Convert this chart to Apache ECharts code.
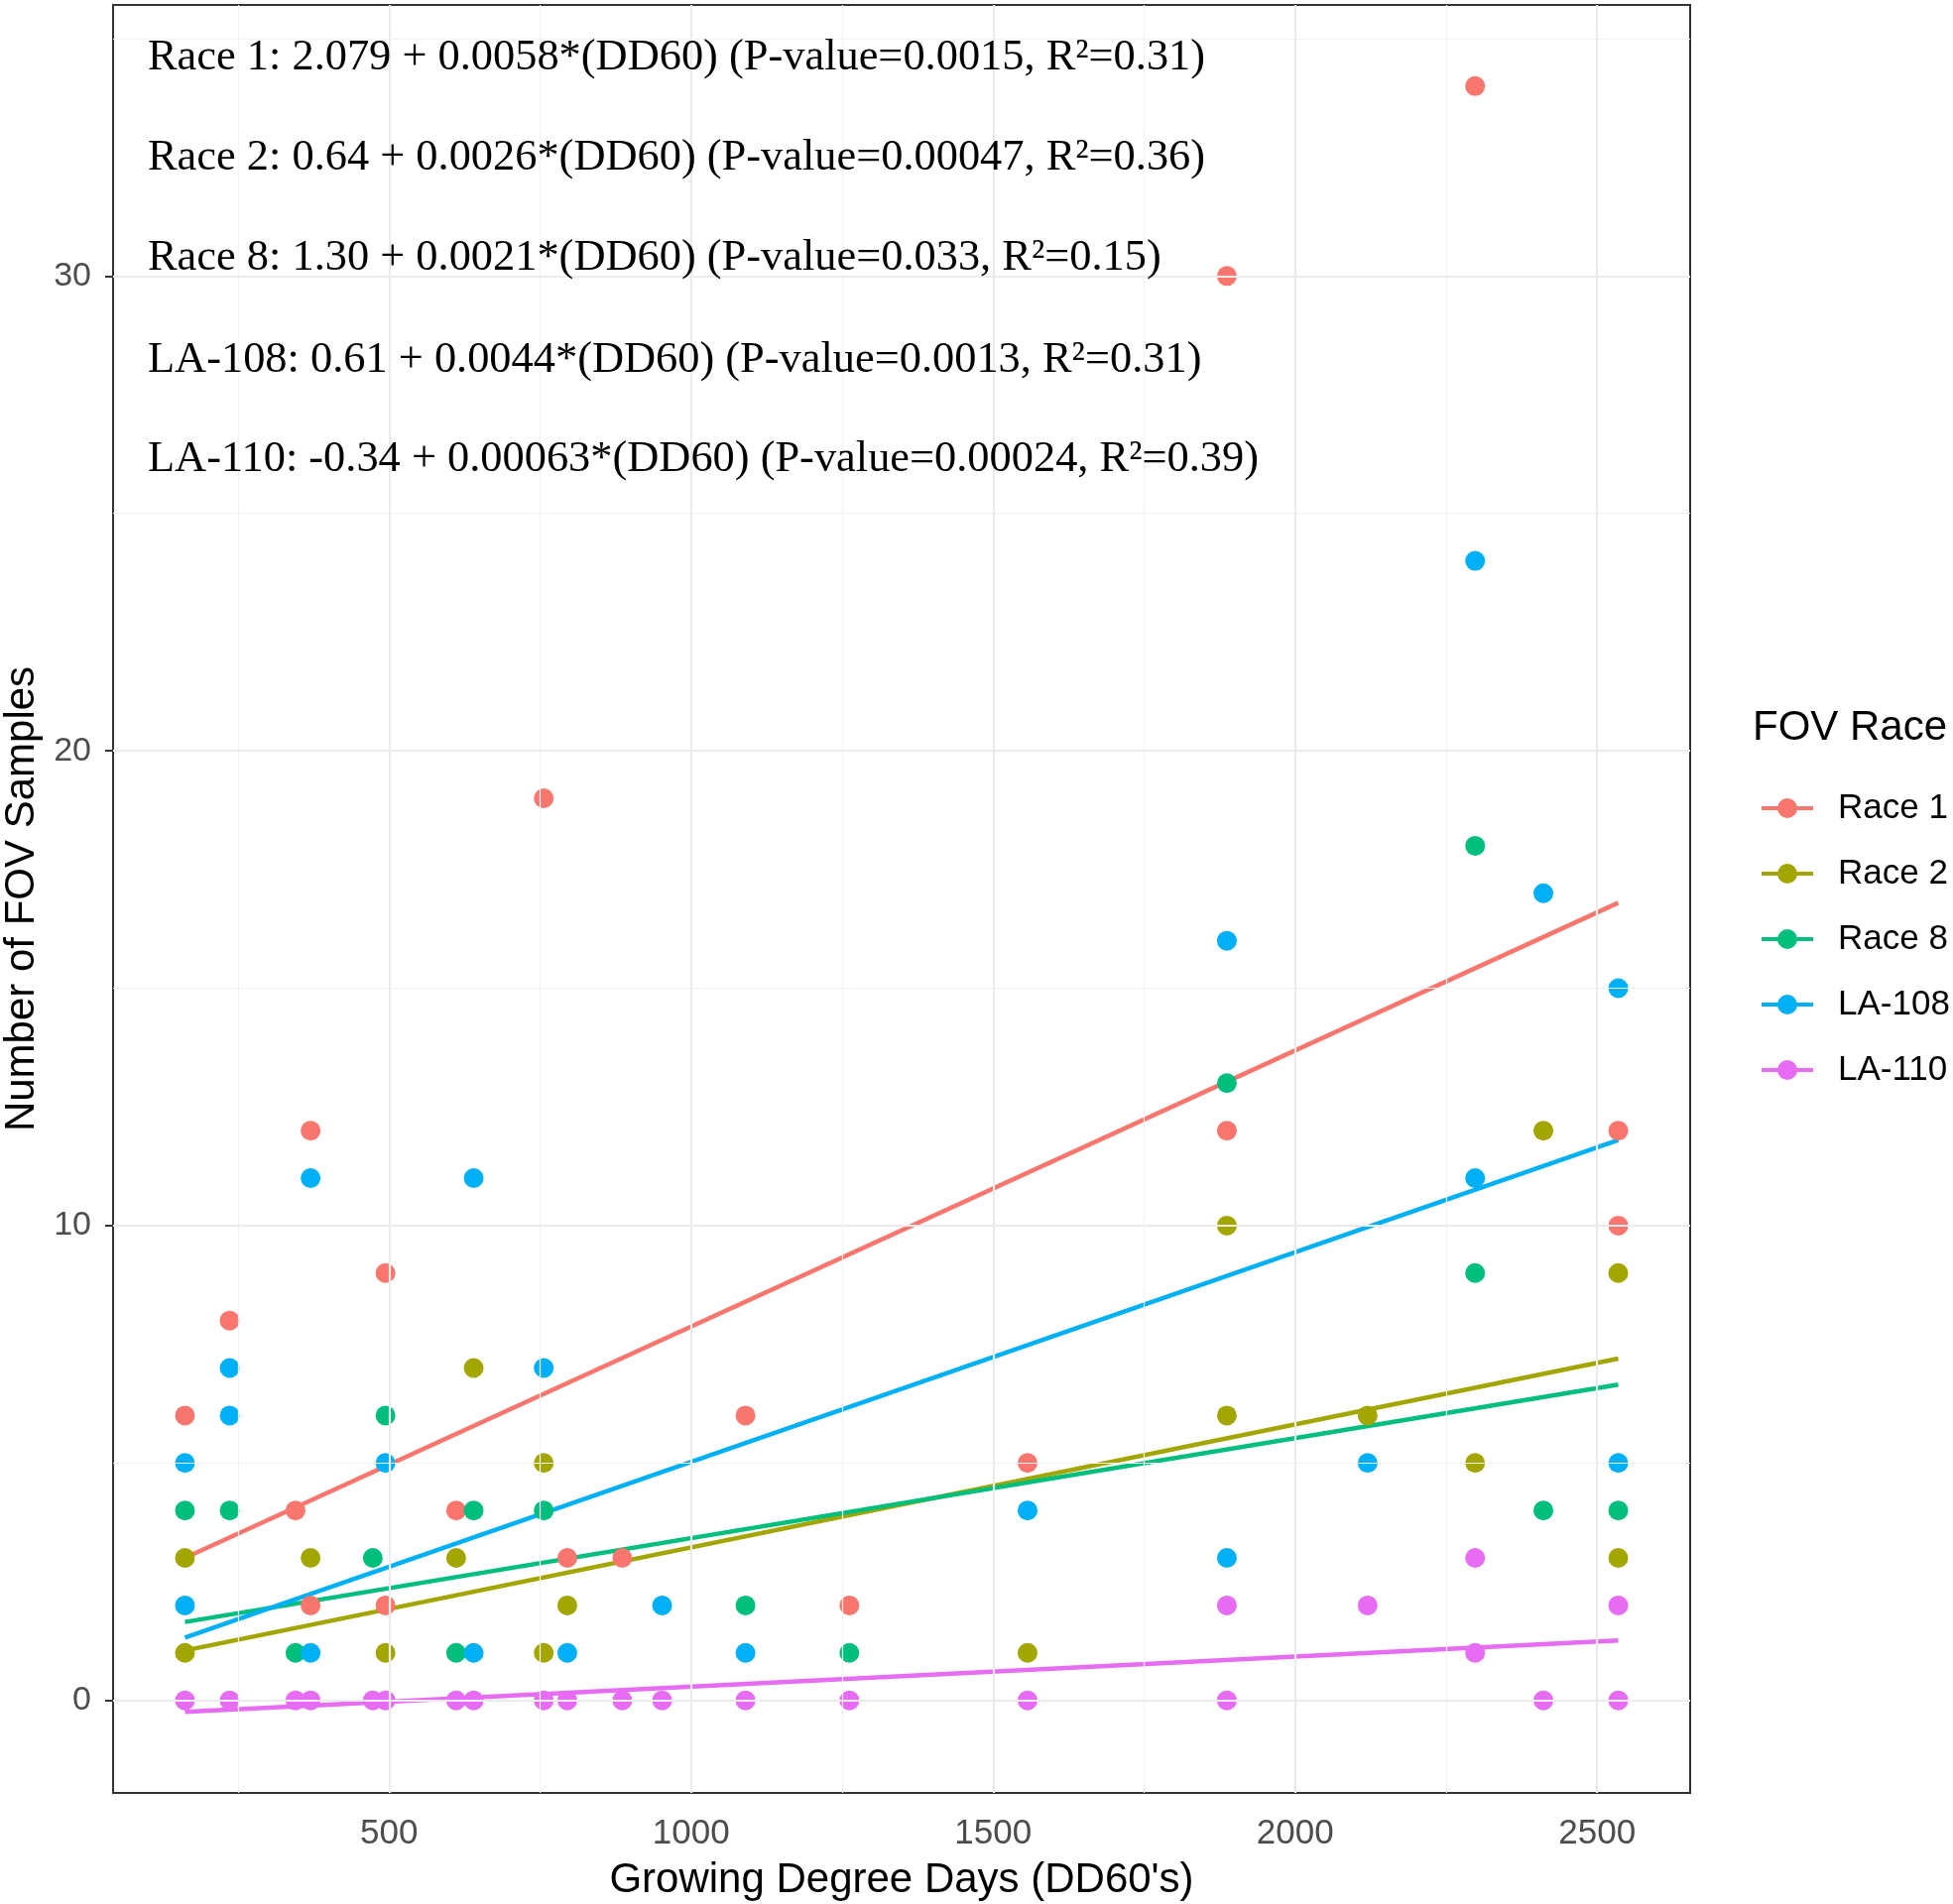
<!DOCTYPE html>
<html>
<head>
<meta charset="utf-8">
<script src="https://cdn.jsdelivr.net/npm/echarts@6/dist/echarts.min.js"></script>
<style>
  html, body { margin: 0; padding: 0; background: #fff; }
  #main { width: 1969px; height: 1920px; }
</style>
</head>
<body>
<div id="main"></div>
<script>
// FOV race names and colours (ggplot default hues)
const raceNames = ['Race 1', 'Race 2', 'Race 8', 'LA-108', 'LA-110'];
const raceColors = ['#F8766D', '#A3A500', '#00BF7D', '#00B0F6', '#E76BF3'];

// [DD60, samples]
const race1 = [[162,6],[236,8],[345,4],[370,12],[370,2],[494,9],[494,2],[611,4],[756,19],[795,3],
  [886,3],[1090,6],[1262,2],[1557,5],[1887,30],[1887,12],[2298,34],[2535,12],[2535,10]];
const race2 = [[162,3],[162,1],[370,3],[494,1],[611,3],[640,7],[756,5],[756,1],[795,2],[1557,1],
  [1887,10],[1887,6],[2120,6],[2298,5],[2411,12],[2535,9],[2535,3]];
const race8 = [[162,4],[236,4],[345,1],[473,3],[494,6],[611,1],[640,4],[756,4],[1090,2],[1262,1],
  [1887,13],[2298,18],[2298,9],[2411,4],[2535,4]];
const la108 = [[162,5],[162,2],[236,7],[236,6],[370,11],[370,1],[494,5],[640,11],[640,1],[756,7],
  [795,1],[952,2],[1090,1],[1557,4],[1887,16],[1887,3],[2120,5],[2298,24],[2298,11],[2411,17],
  [2535,15],[2535,5]];
const la110 = [[162,0],[236,0],[345,0],[370,0],[473,0],[494,0],[611,0],[640,0],[756,0],[795,0],
  [886,0],[952,0],[1090,0],[1262,0],[1557,0],[1887,0],[1887,2],[2120,2],[2298,3],[2298,1],
  [2411,0],[2535,0],[2535,2]];

// fitted lines: ends at the first and last DD60
const fitX = [162, 2535];
const race1Fit = [3.0, 16.8];
const race2Fit = [1.05, 7.2];
const race8Fit = [1.65, 6.65];
const la108Fit = [1.32, 11.8];
const la110Fit = [-0.24, 1.26];

// axes
const xTicks = [500, 1000, 1500, 2000, 2500];
const xMinor = [250, 750, 1250, 1750, 2250];
const yTicks = [0, 10, 20, 30];
const yMinor = [5, 15, 25, 35];

const equations = [
  'Race 1: 2.079 + 0.0058*(DD60) (P-value=0.0015, R\u00b2=0.31)',
  'Race 2: 0.64 + 0.0026*(DD60) (P-value=0.00047, R\u00b2=0.36)',
  'Race 8: 1.30 + 0.0021*(DD60) (P-value=0.033, R\u00b2=0.15)',
  'LA-108: 0.61 + 0.0044*(DD60) (P-value=0.0013, R\u00b2=0.31)',
  'LA-110: -0.34 + 0.00063*(DD60) (P-value=0.00024, R\u00b2=0.39)'
];

const points = [race1, race2, race8, la108, la110];
const fits = [race1Fit, race2Fit, race8Fit, la108Fit, la110Fit];

const sans = 'Liberation Sans';
const serif = 'Liberation Serif';

const chart = echarts.init(document.getElementById('main'));

const gridLines = {
  type: 'line',
  data: [],
  z: 1,
  silent: true,
  markLine: {
    silent: true,
    symbol: 'none',
    animation: false,
    label: { show: false },
    data: [].concat(
      xMinor.map(v => ({ xAxis: v, lineStyle: { color: '#F2F2F2', width: 1.2, type: 'solid' } })),
      yMinor.map(v => ({ yAxis: v, lineStyle: { color: '#F2F2F2', width: 1.2, type: 'solid' } })),
      xTicks.map(v => ({ xAxis: v, lineStyle: { color: '#EBEBEB', width: 2.2, type: 'solid' } })),
      yTicks.map(v => ({ yAxis: v, lineStyle: { color: '#EBEBEB', width: 2.2, type: 'solid' } }))
    )
  }
};

const lineSeries = raceNames.map((name, i) => ({
  name: name,
  type: 'line',
  data: fitX.map((x, j) => [x, fits[i][j]]),
  showSymbol: false,
  z: 2,
  lineStyle: { color: raceColors[i], width: 4.5 },
  itemStyle: { color: raceColors[i] }
}));

const pointSeries = raceNames.map((name, i) => ({
  name: name,
  type: 'scatter',
  data: points[i],
  symbol: 'circle',
  symbolSize: 20,
  z: 3,
  itemStyle: { color: raceColors[i], opacity: 1 }
}));

const legendIcon = 'path://M0,8L52,8L52,12L0,12Z M36,10A10,10,0,1,1,16,10A10,10,0,1,1,36,10Z';

chart.setOption({
  animation: false,
  backgroundColor: '#fff',
  title: {
    text: 'FOV Race',
    left: 1762,
    top: 708,
    textStyle: { fontFamily: sans, fontSize: 42, fontWeight: 'normal', color: '#000' }
  },
  legend: {
    orient: 'vertical',
    left: 1771,
    top: 792,
    itemWidth: 52,
    itemHeight: 20,
    itemGap: 30,
    icon: legendIcon,
    data: raceNames.map((n, i) => ({ name: n, itemStyle: { color: raceColors[i] } })),
    textStyle: { fontFamily: sans, fontSize: 35, color: '#000', lineHeight: 36, padding: [0, 0, 0, 20] }
  },
  grid: {
    left: 114,
    right: 265,
    top: 5,
    bottom: 112,
    outerBoundsMode: 'none',
    containLabel: false,
    show: true,
    borderColor: '#333333',
    borderWidth: 2,
    backgroundColor: '#fff'
  },
  xAxis: {
    type: 'value',
    min: 43,
    max: 2654,
    name: "Growing Degree Days (DD60's)",
    nameLocation: 'middle',
    nameGap: 67,
    nameTextStyle: { fontFamily: sans, fontSize: 42, color: '#000' },
    axisLine: { show: false },
    splitLine: { show: false },
    axisTick: { show: true, length: 8, customValues: xTicks, lineStyle: { color: '#333333', width: 2 } },
    axisLabel: {
      customValues: xTicks,
      formatter: v => String(v),
      fontFamily: sans, fontSize: 35, color: '#4D4D4D', margin: 24
    }
  },
  yAxis: {
    type: 'value',
    min: -1.95,
    max: 35.71,
    name: 'Number of FOV Samples',
    nameLocation: 'middle',
    nameGap: 70,
    nameTextStyle: { fontFamily: sans, fontSize: 42, color: '#000' },
    axisLine: { show: false },
    splitLine: { show: false },
    axisTick: { show: true, length: 8, customValues: yTicks, lineStyle: { color: '#333333', width: 2 } },
    axisLabel: {
      customValues: yTicks,
      formatter: v => String(v),
      fontFamily: sans, fontSize: 34, color: '#4D4D4D', margin: 22
    }
  },
  graphic: equations.map((t, i) => ({
    type: 'text',
    x: 149,
    y: [58, 159, 260, 363, 463][i],
    z: 10,
    style: { text: t, fontFamily: serif, fontSize: 44.4, fill: '#000', verticalAlign: 'middle' }
  })),
  series: [gridLines].concat(lineSeries, pointSeries)
});
</script>
</body>
</html>
